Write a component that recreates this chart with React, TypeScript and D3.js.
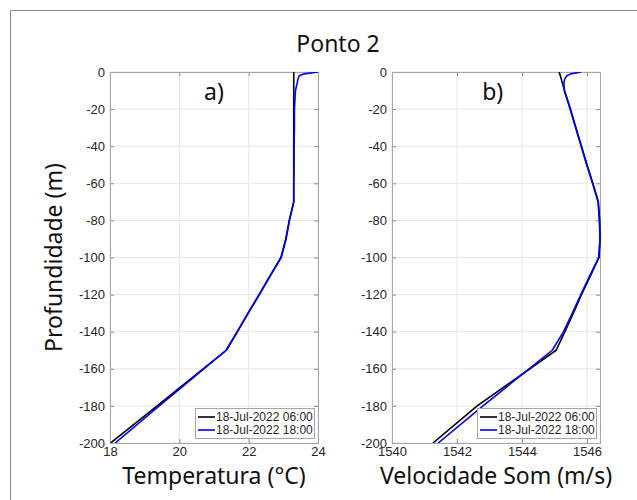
import { useEffect, useRef } from "react";
import * as d3 from "d3";

const depths = [0, -1, -2, -4, -6, -10, -20, -30, -40, -50, -60, -70, -80, -90, -100, -110, -120, -130, -140, -150, -180, -200];
const temp06 = [23.3, 23.3, 23.3, 23.3, 23.3, 23.3, 23.3, 23.3, 23.3, 23.3, 23.3, 23.3, 23.17, 23.07, 22.93, 22.61, 22.3, 21.98, 21.67, 21.35, 19.36, 18.02];
const temp18 = [24.0, 23.6, 23.46, 23.42, 23.4, 23.35, 23.32, 23.32, 23.31, 23.31, 23.3, 23.3, 23.18, 23.08, 22.94, 22.62, 22.31, 21.99, 21.68, 21.36, 19.42, 18.15];
const sound06 = [1545.14, 1545.16, 1545.18, 1545.21, 1545.24, 1545.31, 1545.49, 1545.66, 1545.83, 1546.0, 1546.18, 1546.35, 1546.39, 1546.4, 1546.37, 1546.1, 1545.83, 1545.58, 1545.32, 1545.05, 1542.62, 1541.26];
const sound18 = [1545.82, 1545.5, 1545.38, 1545.31, 1545.29, 1545.3, 1545.48, 1545.65, 1545.82, 1545.99, 1546.17, 1546.34, 1546.38, 1546.4, 1546.36, 1546.08, 1545.81, 1545.55, 1545.28, 1544.93, 1542.8, 1541.42];

const seriesLabels = ["18-Jul-2022 06:00", "18-Jul-2022 18:00"];
const seriesColors = ["#000000", "#0000ff"];
const depthTicks = [0, -20, -40, -60, -80, -100, -120, -140, -160, -180, -200];
const tempTicks = [18, 20, 22, 24];
const soundTicks = [1540, 1542, 1544, 1546];

const tickFont = "'Liberation Sans', Arial, sans-serif";
const labelFont = "'Noto Sans', 'Open Sans', sans-serif";

export default function App() {
  const svgRef = useRef<SVGSVGElement>(null);

  useEffect(() => {
    const svg = d3.select(svgRef.current);
    svg.selectAll("*").remove();

    const width = 637, height = 500;
    const top = 72, bottom = 443;

    svg.append("rect").attr("width", width).attr("height", height).attr("fill", "#fff");
    // figure border (cropped on the right/bottom)
    svg.append("path").attr("d", `M10.5,${height} V10.5 H${width}`)
      .attr("fill", "none").attr("stroke", "#8a8a8a").attr("stroke-width", 1);

    svg.append("text").attr("x", 338).attr("y", 52).attr("text-anchor", "middle")
      .style("font-family", labelFont).style("font-size", "23px").attr("fill", "#111")
      .text("Ponto 2");

    const y = d3.scaleLinear().domain([-200, 0]).range([bottom, top]);

    const panels = [
      { id: "a", left: 110, right: 318, domain: [18, 24], ticks: tempTicks, s06: temp06, s18: temp18,
        tag: "a)", tagX: 21, xlabel: "Temperatura (°C)" },
      { id: "b", left: 392, right: 600, domain: [1540, 1546.4], ticks: soundTicks, s06: sound06, s18: sound18,
        tag: "b)", tagX: 1543.1, xlabel: "Velocidade Som (m/s)" },
    ];

    panels.forEach(p => {
      const x = d3.scaleLinear().domain(p.domain).range([p.left, p.right]);
      const g = svg.append("g");

      // grid
      g.selectAll(".gx").data(p.ticks).enter().append("line")
        .attr("x1", d => x(d)).attr("x2", d => x(d)).attr("y1", top).attr("y2", bottom)
        .attr("stroke", "#e6e6e6");
      g.selectAll(".gy").data(depthTicks).enter().append("line")
        .attr("y1", d => y(d)).attr("y2", d => y(d)).attr("x1", p.left).attr("x2", p.right)
        .attr("stroke", "#e6e6e6");

      // axes, ticks inward
      const fmt = (d: any) => String(d);
      const ax = g.append("g").attr("transform", `translate(${p.left},0)`)
        .call(d3.axisLeft(y).tickValues(depthTicks).tickSize(-4).tickPadding(5).tickFormat(fmt));
      const axR = g.append("g").attr("transform", `translate(${p.right},0)`)
        .call(d3.axisRight(y).tickValues(depthTicks).tickSize(-4).tickFormat(() => ""));
      const bx = g.append("g").attr("transform", `translate(0,${bottom})`)
        .call(d3.axisBottom(x).tickValues(p.ticks).tickSize(-4).tickPadding(4).tickFormat(fmt));
      const bxT = g.append("g").attr("transform", `translate(0,${top})`)
        .call(d3.axisTop(x).tickValues(p.ticks).tickSize(-4).tickFormat(() => ""));
      [ax, axR, bx, bxT].forEach(a => {
        a.select(".domain").remove();
        a.selectAll("line").attr("stroke", "#8c8c8c");
        a.selectAll("text").attr("fill", "#262626").style("font-family", tickFont).style("font-size", "13px");
      });

      g.append("rect").attr("x", p.left + 0.5).attr("y", top + 0.5)
        .attr("width", p.right - p.left).attr("height", bottom - top)
        .attr("fill", "none").attr("stroke", "#a6a6a6");

      // data lines
      svg.append("clipPath").attr("id", `clip-${p.id}`).append("rect")
        .attr("x", p.left).attr("y", top).attr("width", p.right - p.left + 1).attr("height", bottom - top);
      const line = d3.line<number>().x(d => x(d)).y((_, i) => y(depths[i]));
      [p.s06, p.s18].forEach((s, k) => {
        g.append("path").datum(s).attr("clip-path", `url(#clip-${p.id})`)
          .attr("fill", "none").attr("stroke", seriesColors[k]).attr("stroke-width", 1.6)
          .attr("stroke-linejoin", "round").attr("d", line);
      });

      g.append("text").attr("x", x(p.tagX)).attr("y", y(-15)).attr("text-anchor", "middle")
        .style("font-family", labelFont).style("font-size", "23px").attr("fill", "#111")
        .text(p.tag);

      g.append("text").attr("x", (p.left + p.right) / 2).attr("y", 484).attr("text-anchor", "middle")
        .style("font-family", labelFont).style("font-size", "23px").attr("fill", "#111")
        .text(p.xlabel);

      // legend
      const lw = 119, lh = 30;
      const lx = p.right - 4 - lw, ly = 408;
      const leg = g.append("g").attr("transform", `translate(${lx},${ly})`);
      leg.append("rect").attr("x", 0.5).attr("y", 0.5).attr("width", lw).attr("height", lh)
        .attr("fill", "#fff").attr("stroke", "#a6a6a6");
      seriesLabels.forEach((lab, k) => {
        const cy = 9 + k * 13;
        leg.append("line").attr("x1", 3).attr("x2", 20).attr("y1", cy).attr("y2", cy)
          .attr("stroke", seriesColors[k]).attr("stroke-width", 1.6);
        leg.append("text").attr("x", 21).attr("y", cy).attr("dy", "0.35em")
          .style("font-family", tickFont).style("font-size", "12px").attr("fill", "#262626")
          .text(lab);
      });
    });

    svg.append("text").attr("transform", `translate(62,${(top + bottom) / 2}) rotate(-90)`)
      .attr("text-anchor", "middle")
      .style("font-family", labelFont).style("font-size", "23px").attr("fill", "#111")
      .text("Profundidade (m)");
  }, []);

  return <svg ref={svgRef} width={637} height={500} style={{ position: "absolute", left: 0, top: 0 }} />;
}
